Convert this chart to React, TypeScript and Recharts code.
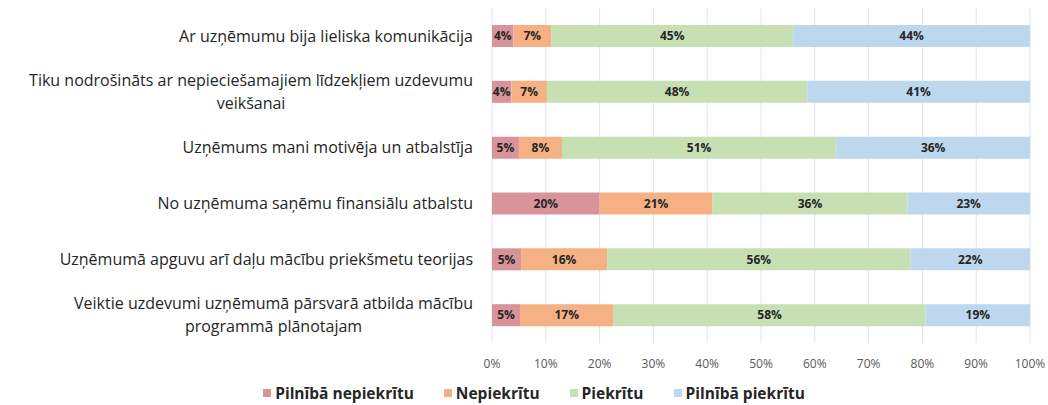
import { Bar, BarChart, CartesianGrid, LabelList, Legend, XAxis, YAxis } from "recharts"

const categories = [
  "Ar uzņēmumu bija lieliska komunikācija",
  "Tiku nodrošināts ar nepieciešamajiem līdzekļiem uzdevumu\nveikšanai",
  "Uzņēmums mani motivēja un atbalstīja",
  "No uzņēmuma saņēmu finansiālu atbalstu",
  "Uzņēmumā apguvu arī daļu mācību priekšmetu teorijas",
  "Veiktie uzdevumi uzņēmumā pārsvarā atbilda mācību\nprogrammā plānotajam",
]

const stronglyDisagree = [4, 3.6, 5, 20, 5.4, 5.2]
const disagree = [7, 6.6, 8, 21, 16, 17.4]
const agree = [45, 48.4, 51, 36.2, 56.4, 58]
const stronglyAgree = [44, 41.4, 36, 22.8, 22.2, 19.4]

const xTicks = [0, 10, 20, 30, 40, 50, 60, 70, 80, 90, 100]

const seriesNames = ["Pilnībā nepiekrītu", "Nepiekrītu", "Piekrītu", "Pilnībā piekrītu"]
const seriesColors = ["#d99499", "#f5b183", "#c6e0b4", "#bdd7ee"]
const seriesKeys = ["s1", "s2", "s3", "s4"]

const data = categories.map((name, i) => ({
  name,
  s1: stronglyDisagree[i],
  s2: disagree[i],
  s3: agree[i],
  s4: stronglyAgree[i],
}))

const labelSize = 16
const labelFont = `${labelSize}px 'Open Sans'`

let ctx: CanvasRenderingContext2D | null = null
function measure(text: string) {
  if (!ctx) ctx = document.createElement("canvas").getContext("2d")
  if (!ctx) return text.length * 8.5
  ctx.font = labelFont
  return ctx.measureText(text).width
}

function CategoryTick(props: any) {
  const { x, y, payload } = props
  const lines: string[] = String(payload.value).split("\n")
  if (lines.length === 1) {
    return (
      <text x={x} y={y} dy="0.35em" textAnchor="end" fontFamily="Open Sans" fontSize={labelSize} fill="#262626">
        {lines[0]}
      </text>
    )
  }
  // wrapped labels: block right-aligned, lines centred on each other
  const maxW = Math.max(...lines.map(measure))
  const cx = x - maxW / 2
  const lh = 23
  const y0 = y - ((lines.length - 1) * lh) / 2
  return (
    <text textAnchor="middle" fontFamily="Open Sans" fontSize={labelSize} fill="#262626">
      {lines.map((l, i) => (
        <tspan key={i} x={cx} y={y0 + i * lh} dy="0.35em">
          {l}
        </tspan>
      ))}
    </text>
  )
}

function LegendContent() {
  return (
    <div style={{ display: "flex", justifyContent: "center", gap: 30, fontFamily: "Open Sans", fontSize: 15.5, fontWeight: 700, color: "#262626", paddingLeft: 20 }}>
      {seriesNames.map((n, i) => (
        <div key={n} style={{ display: "flex", alignItems: "center", gap: 4 }}>
          <span style={{ display: "inline-block", width: 8, height: 8, background: seriesColors[i] }} />
          <span>{n}</span>
        </div>
      ))}
    </div>
  )
}

export default function App() {
  return (
    <div style={{ position: "absolute", left: 0, top: 0, background: "#fff" }}>
      <BarChart
        width={1048}
        height={405}
        data={data}
        layout="vertical"
        margin={{ top: 8, right: 18, bottom: 32, left: 0 }}
        barSize={22}
      >
        <CartesianGrid horizontal={false} stroke="#dfe5ee" />
        <XAxis
          type="number"
          domain={[0, 100]}
          ticks={xTicks}
          tickFormatter={(v) => `${v}%`}
          axisLine={false}
          tickLine={false}
          tickSize={0}
          tickMargin={16}
          height={30}
          tick={{ fontFamily: "Open Sans", fontSize: 12, fill: "#595959" }}
          interval={0}
        />
        <YAxis
          type="category"
          dataKey="name"
          width={492}
          axisLine={false}
          tickLine={false}
          tickSize={0}
          tickMargin={19}
          tick={<CategoryTick />}
          interval={0}
        />
        <Legend
          verticalAlign="middle"
          align="center"
          wrapperStyle={{ top: 382, left: 0, width: 1048 }}
          content={<LegendContent />}
        />
        {seriesKeys.map((k, i) => (
          <Bar key={k} dataKey={k} name={seriesNames[i]} stackId="a" fill={seriesColors[i]} isAnimationActive={false}>
            <LabelList
              dataKey={k}
              position="center"
              formatter={(v: any) => `${Math.round(Number(v))}%`}
              style={{ fontFamily: "Open Sans", fontSize: 12, fontWeight: 700, fill: "#262626" }}
            />
          </Bar>
        ))}
      </BarChart>
    </div>
  )
}
